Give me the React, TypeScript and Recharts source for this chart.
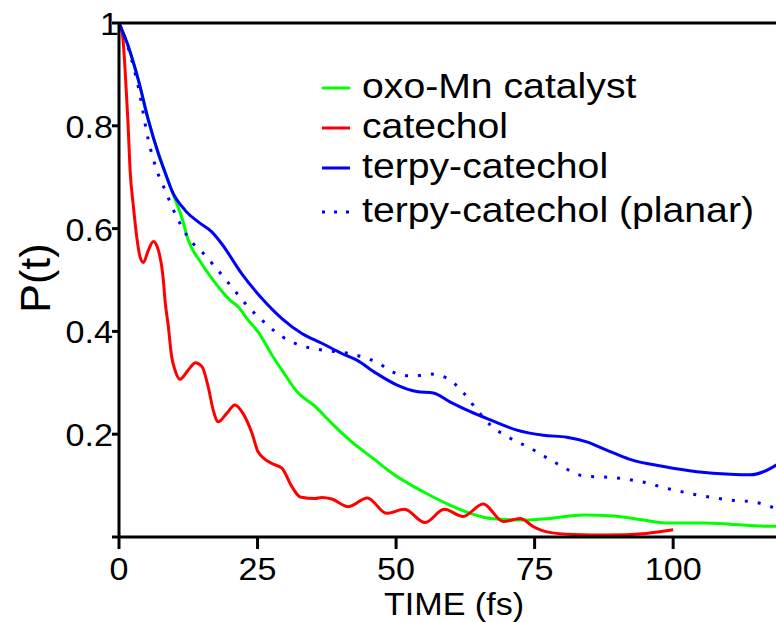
import { LineChart, Line, XAxis, YAxis, ReferenceLine, Legend } from 'recharts';

const FONT = '"Liberation Sans", Arial, Helvetica, sans-serif';

// survival probability P(t) vs time (fs)
const oxoTime = [0, 1.7, 3.5, 5.3, 7.1, 8.6, 10, 11.3, 12.5, 14.9, 17.9, 20.0, 21.5, 23.3, 25.1, 27.6, 30.0, 32.1, 35.4, 38.4, 42.0, 46.2, 48.9, 54.9, 59.7, 63.4, 67, 73, 77.8, 83.8, 89.2, 94, 99.5, 105.5, 110.3, 116.3, 120];
const oxoP = [1, 0.954, 0.889, 0.811, 0.746, 0.701, 0.66, 0.623, 0.578, 0.532, 0.487, 0.461, 0.448, 0.422, 0.399, 0.354, 0.315, 0.283, 0.254, 0.221, 0.185, 0.150, 0.127, 0.088, 0.062, 0.046, 0.036, 0.033, 0.036, 0.043, 0.041, 0.034, 0.027, 0.027, 0.025, 0.021, 0.021];

const catTime = [0, 0.6, 1.1, 1.6, 2.0, 2.6, 3.2, 3.8, 4.4, 5.3, 6.2, 7.1, 8.0, 8.3, 8.9, 9.5, 10.1, 11.0, 12.5, 13.8, 15.0, 16.1, 17.0, 17.9, 19.4, 20.9, 22.4, 24.0, 25.1, 27.6, 29.4, 31.2, 32.7, 35.4, 36.6, 38.4, 41.4, 44.8, 48.3, 51.5, 55.2, 58.7, 62.1, 65.7, 69.4, 72.4, 74.8, 77.2, 82, 88, 95.2, 100];
const catP = [1, 0.98, 0.909, 0.811, 0.714, 0.643, 0.584, 0.545, 0.534, 0.558, 0.575, 0.558, 0.5, 0.461, 0.41, 0.351, 0.325, 0.307, 0.325, 0.339, 0.331, 0.292, 0.247, 0.224, 0.24, 0.257, 0.24, 0.202, 0.166, 0.143, 0.134, 0.098, 0.078, 0.075, 0.077, 0.074, 0.059, 0.076, 0.046, 0.054, 0.028, 0.054, 0.04, 0.064, 0.03, 0.036, 0.02, 0.01, 0.005, 0.004, 0.007, 0.014];

const terpyTime = [0, 1.7, 3.5, 5.3, 7.1, 8.6, 9.5, 11.9, 14.3, 16.7, 18.5, 22.1, 25.8, 29.4, 33, 36.6, 40.2, 42.9, 46.5, 50.1, 53.7, 56.7, 59.7, 63.4, 67, 71.8, 76.6, 80.8, 84.4, 88, 92.2, 98.3, 104.3, 110.3, 113.9, 116.3, 118.6, 120];
const terpyP = [1, 0.954, 0.889, 0.811, 0.746, 0.701, 0.675, 0.636, 0.613, 0.594, 0.571, 0.513, 0.464, 0.425, 0.396, 0.377, 0.357, 0.344, 0.318, 0.296, 0.283, 0.28, 0.263, 0.244, 0.228, 0.208, 0.198, 0.194, 0.185, 0.169, 0.151, 0.137, 0.127, 0.122, 0.121, 0.127, 0.14, 0.15];

const planarTime = [0, 1.7, 3.5, 5.3, 6.8, 8.3, 10.4, 12.8, 15.2, 17.3, 20.3, 23.3, 26.4, 29.4, 32.4, 36.6, 41.5, 46.3, 50.1, 53.1, 56.1, 59.2, 62.2, 64.6, 67, 70.6, 74.2, 79, 83.8, 89.8, 94, 99.5, 104.3, 110.3, 115.1, 118.6, 120];
const planarP = [1, 0.95, 0.875, 0.772, 0.714, 0.675, 0.623, 0.578, 0.552, 0.526, 0.487, 0.448, 0.416, 0.39, 0.374, 0.364, 0.357, 0.341, 0.318, 0.313, 0.317, 0.309, 0.28, 0.247, 0.218, 0.192, 0.173, 0.143, 0.119, 0.115, 0.108, 0.093, 0.082, 0.072, 0.067, 0.056, 0.053];

const xTicks = [0, 25, 50, 75, 100];
const yTicks = [0, 0.2, 0.4, 0.6, 0.8, 1];

const toRows = (ts: number[], ps: number[]) => ts.map((t, i) => ({ t, p: ps[i] }));

const series = [
  { name: 'oxo-Mn catalyst', color: '#00ff00', data: toRows(oxoTime, oxoP), dotted: false },
  { name: 'catechol', color: '#ff0000', data: toRows(catTime, catP), dotted: false },
  { name: 'terpy-catechol', color: '#0000ff', data: toRows(terpyTime, terpyP), dotted: false },
  { name: 'terpy-catechol (planar)', color: '#0000ff', data: toRows(planarTime, planarP), dotted: true },
];

const XTick = ({ x, y, payload }: any) => (
  <text
    transform={`translate(${x} ${y + 31}) scale(1.1 1)`}
    textAnchor="middle"
    fontSize={31}
    fontFamily={FONT}
    fill="#000"
  >
    {payload.value}
  </text>
);

const YTick = ({ x, y, payload }: any) => {
  if (payload.value === 0) return null;
  const label = payload.value === 1 ? '1' : payload.value.toFixed(1);
  const dx = payload.value === 1 ? 7 : 1;
  return (
    <text
      transform={`translate(${x + dx} ${y + 12}) scale(1.1 1)`}
      textAnchor="end"
      fontSize={31}
      fontFamily={FONT}
      fill="#000"
    >
      {label}
    </text>
  );
};

// legend rows: text baselines inside the legend box
const rowY = [38, 78, 118, 162];

const LegendBox = () => (
  <svg width={460} height={180} style={{ display: 'block' }}>
    {series.map((s, i) => {
      const base = rowY[i];
      return (
        <g key={s.name}>
          <line x1={12} x2={40} y1={base - 10} y2={base - 10} stroke={s.color} strokeWidth={3} strokeDasharray={s.dotted ? '3 9' : undefined} />
          <text transform={`translate(52 ${base}) scale(1.12 1)`} fontSize={35} fontFamily={FONT} fill="#000">
            {s.name}
          </text>
        </g>
      );
    })}
  </svg>
);

export default function App() {
  return (
    <div style={{ position: 'absolute', left: 0, top: 0, width: 776, height: 622, overflow: 'hidden', background: '#fff' }}>
      <LineChart width={800} height={622} margin={{ top: 23, right: 16, bottom: 0, left: 0 }}>
        <XAxis
          type="number"
          dataKey="t"
          domain={[0, 120]}
          ticks={xTicks}
          allowDataOverflow
          height={85}
          axisLine={{ stroke: '#000', strokeWidth: 3 }}
          tickLine={{ stroke: '#000', strokeWidth: 3 }}
          tickSize={12}
          tickMargin={0}
          tick={<XTick />}
          label={{
            content: () => (
              <text transform="translate(454 615) scale(1.1 1)" textAnchor="middle" fontSize={31} fontFamily={FONT} fill="#000">
                TIME (fs)
              </text>
            ),
          }}
        />
        <YAxis
          type="number"
          domain={[0, 1]}
          ticks={yTicks}
          allowDataOverflow
          width={119}
          axisLine={{ stroke: '#000', strokeWidth: 3 }}
          tickLine={{ stroke: '#000', strokeWidth: 3 }}
          tickSize={7}
          tickMargin={0}
          tick={<YTick />}
          label={{
            content: () => (
              <text transform="translate(50 278) rotate(-90)" textAnchor="middle" fontSize={43} fontFamily={FONT} fill="#000">
                P(t)
              </text>
            ),
          }}
        />
        <ReferenceLine y={1} stroke="#000" strokeWidth={3} ifOverflow="extendDomain" />
        <Legend
          layout="vertical"
          align="center"
          verticalAlign="middle"
          content={<LegendBox />}
          wrapperStyle={{ left: 310, top: 60, width: 460, height: 180 }}
        />
        {series.map((s) => (
          <Line
            key={s.name}
            data={s.data}
            dataKey="p"
            name={s.name}
            type="monotone"
            stroke={s.color}
            strokeWidth={3}
            strokeDasharray={s.dotted ? '3 10' : undefined}
            dot={false}
            activeDot={false}
            isAnimationActive={false}
          />
        ))}
      </LineChart>
    </div>
  );
}
